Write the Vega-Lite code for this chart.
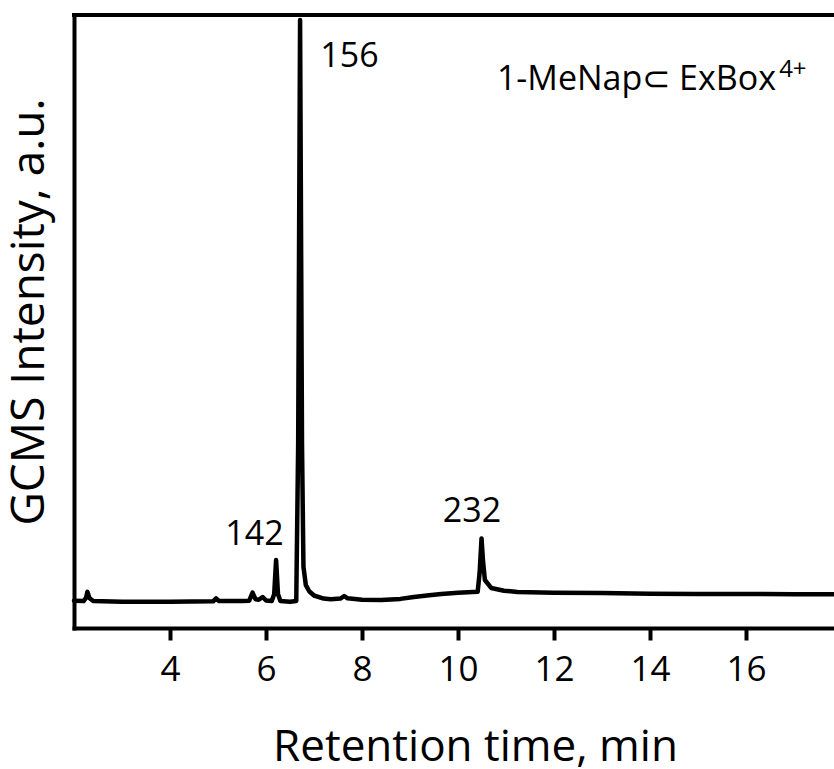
{
  "$schema": "https://vega.github.io/schema/vega-lite/v6.json",
  "autosize": {"type": "none"},
  "padding": {"left": 74, "top": 15, "right": 0, "bottom": 141},
  "width": 760,
  "height": 613,
  "background": "white",
  "config": {
    "view": {"stroke": null},
    "font": "Open Sans",
    "axis": {"grid": false, "domain": true, "domainColor": "black", "domainWidth": 4, "domainCap": "square", "labelColor": "black", "titleColor": "black", "titleFontWeight": "normal", "labelFont": "Open Sans", "titleFont": "Open Sans"}
  },
  "datasets": {
    "trace": [
      {"t": 2.0, "v": 4.45}, {"t": 2.2, "v": 4.4}, {"t": 2.25, "v": 4.9}, {"t": 2.28, "v": 5.9}, {"t": 2.32, "v": 4.9}, {"t": 2.4, "v": 4.4},
      {"t": 3.0, "v": 4.3}, {"t": 4.0, "v": 4.3}, {"t": 4.9, "v": 4.35}, {"t": 4.96, "v": 4.85}, {"t": 5.02, "v": 4.4}, {"t": 5.5, "v": 4.4},
      {"t": 5.65, "v": 4.45}, {"t": 5.72, "v": 5.76}, {"t": 5.78, "v": 4.7}, {"t": 5.85, "v": 4.6}, {"t": 5.93, "v": 5.06}, {"t": 6.0, "v": 4.5},
      {"t": 6.12, "v": 4.4}, {"t": 6.17, "v": 5.5}, {"t": 6.21, "v": 11.09}, {"t": 6.25, "v": 5.5}, {"t": 6.3, "v": 4.4}, {"t": 6.5, "v": 4.3},
      {"t": 6.63, "v": 4.4}, {"t": 6.67, "v": 30}, {"t": 6.71, "v": 99.2}, {"t": 6.75, "v": 30}, {"t": 6.78, "v": 10}, {"t": 6.83, "v": 7},
      {"t": 6.9, "v": 6.0}, {"t": 7.0, "v": 5.3}, {"t": 7.2, "v": 4.8}, {"t": 7.35, "v": 4.7}, {"t": 7.55, "v": 4.8}, {"t": 7.63, "v": 5.22},
      {"t": 7.7, "v": 4.85}, {"t": 8.0, "v": 4.6}, {"t": 8.4, "v": 4.57}, {"t": 8.8, "v": 4.75}, {"t": 9.08, "v": 5.06}, {"t": 9.4, "v": 5.35},
      {"t": 9.65, "v": 5.55}, {"t": 10.0, "v": 5.75}, {"t": 10.41, "v": 5.92}, {"t": 10.45, "v": 9.0}, {"t": 10.49, "v": 14.62}, {"t": 10.52, "v": 11.0},
      {"t": 10.56, "v": 7.83}, {"t": 10.69, "v": 6.53}, {"t": 10.96, "v": 6.08}, {"t": 11.24, "v": 5.87}, {"t": 12.0, "v": 5.76}, {"t": 13.0, "v": 5.7},
      {"t": 14.0, "v": 5.6}, {"t": 15.0, "v": 5.55}, {"t": 16.0, "v": 5.55}, {"t": 17.0, "v": 5.5}, {"t": 17.83, "v": 5.5}
    ]
  },
  "layer": [
    {
      "data": {"values": [{"v": 100}]},
      "mark": {"type": "rule", "color": "black", "strokeWidth": 4, "strokeCap": "square"},
      "encoding": {"y": {"field": "v", "type": "quantitative"}}
    },
    {
      "data": {"name": "trace"},
      "mark": {"type": "line", "color": "black", "strokeWidth": 4.5, "strokeJoin": "round", "strokeCap": "round"},
      "encoding": {
        "x": {"field": "t", "type": "quantitative", "scale": {"domain": [2, 17.833], "nice": false, "zero": false},
          "axis": {"values": [4, 6, 8, 10, 12, 14, 16], "ticks": true, "tickSize": 12, "tickWidth": 4, "tickColor": "black",
            "labelFontSize": 35, "labelPadding": 40, "labelBaseline": "alphabetic",
            "title": "Retention time, min", "titleFontSize": 44, "titleX": 401, "titleY": 132.7, "titleAlign": "center", "titleBaseline": "alphabetic"}},
        "y": {"field": "v", "type": "quantitative", "scale": {"domain": [0, 100], "nice": false, "zero": false},
          "axis": {"ticks": false, "labels": false, "title": "GCMS Intensity, a.u.", "titleFontSize": 46, "titleX": -30.7, "titleY": 296.5, "titleAngle": -90, "titleAlign": "center", "titleBaseline": "alphabetic"}}
      }
    },
    {
      "data": {"values": [
        {"t": 7.74, "v": 91.57, "label": "156"},
        {"t": 5.76, "v": 13.54, "label": "142"},
        {"t": 10.29, "v": 17.34, "label": "232"}
      ]},
      "mark": {"type": "text", "fontSize": 34, "align": "center", "baseline": "alphabetic", "color": "black", "font": "Open Sans"},
      "encoding": {"x": {"field": "t", "type": "quantitative"}, "y": {"field": "v", "type": "quantitative"}, "text": {"field": "label"}}
    },
    {
      "data": {"values": [{"t": 16.625, "v": 87.77, "label": "1-MeNap⊂ ExBox"}]},
      "mark": {"type": "text", "fontSize": 34, "align": "right", "baseline": "alphabetic", "color": "black", "font": "Open Sans"},
      "encoding": {"x": {"field": "t", "type": "quantitative"}, "y": {"field": "v", "type": "quantitative"}, "text": {"field": "label"}}
    },
    {
      "data": {"values": [{"t": 16.69, "v": 89.9, "label": "4+"}]},
      "mark": {"type": "text", "fontSize": 24, "align": "left", "baseline": "alphabetic", "color": "black", "font": "Open Sans"},
      "encoding": {"x": {"field": "t", "type": "quantitative"}, "y": {"field": "v", "type": "quantitative"}, "text": {"field": "label"}}
    }
  ]
}
